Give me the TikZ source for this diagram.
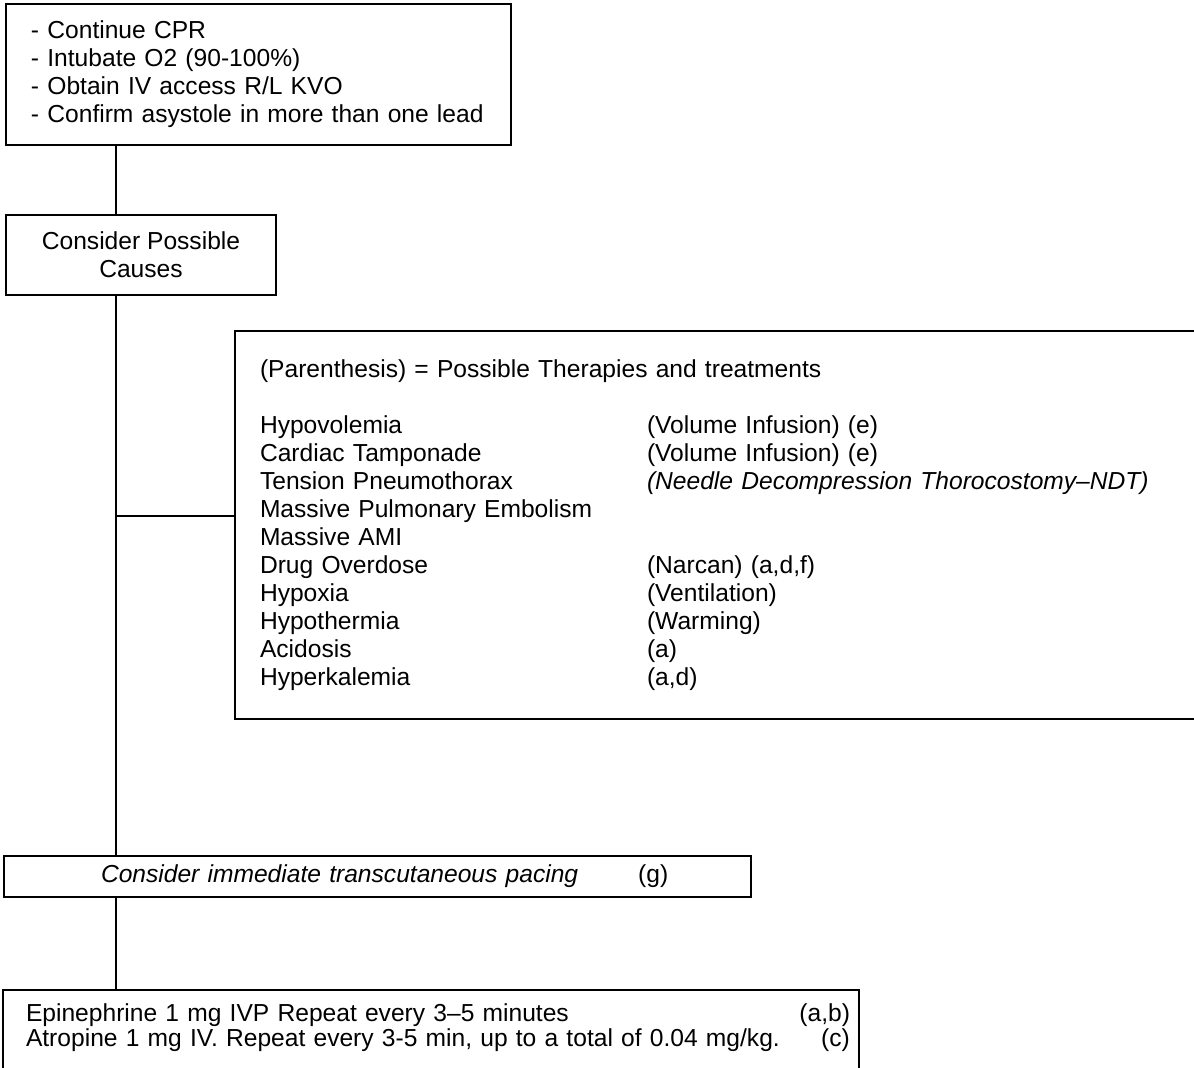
\documentclass[tikz,border=0pt]{standalone}
\usepackage{fontspec}
\setmainfont{Liberation Sans}
\newcommand{\causerow}[2]{\makebox[\ColGap][l]{#1}#2}

\begin{document}
\begin{tikzpicture}[x=0.5pt, y=-0.5pt, font=\fontsize{12.3}{14}\selectfont,
	box/.style={draw, rectangle, line width=0.9pt, anchor=north west, inner ysep=0pt, outer sep=0pt},
	link/.style={line width=0.7pt}]

	\def \ColGap {193.5pt} % second column of the causes list
	\def \TextInset {12.5pt}
	\def \TrunkX {116}

	\useasboundingbox (0,0) rectangle (1194,1068);

	\node (Steps) at (6,4) [box, minimum width=252.5pt, minimum height=70.5pt, inner xsep=\TextInset, text width=227.5pt, align=left]{- Continue CPR\\- Intubate O2 (90-100\%)\\- Obtain IV access R/L KVO\\- Confirm asystole in more than one lead};
	\node (Causes) at (6,215) [box, minimum width=135pt, minimum height=40pt, align=center]{Consider Possible\\Causes};
	\node (List) at (235,331) [box, minimum width=507.5pt, minimum height=194pt, inner xsep=\TextInset, text width=482.5pt, align=left]{(Parenthesis) = Possible Therapies and treatments\\[14pt]
		\causerow{Hypovolemia}{(Volume Infusion) (e)}\\
		\causerow{Cardiac Tamponade}{(Volume Infusion) (e)}\\
		\causerow{Tension Pneumothorax}{\textit{(Needle Decompression Thorocostomy–NDT)}}\\
		\causerow{Massive Pulmonary Embolism}{}\\
		\causerow{Massive AMI}{}\\
		\causerow{Drug Overdose}{(Narcan) (a,d,f)}\\
		\causerow{Hypoxia}{(Ventilation)}\\
		\causerow{Hypothermia}{(Warming)}\\
		\causerow{Acidosis}{(a)}\\
		\causerow{Hyperkalemia}{(a,d)}};
	\node (Pacing) at (4,856) [box, minimum width=373.5pt, minimum height=20.5pt, inner xsep=4.5pt, text width=364.5pt, align=left]{\hspace*{44pt}\textit{Consider immediate transcutaneous pacing}\hspace{30pt}(g)};
	\node (Drugs) at (3,990) [box, minimum width=428pt, inner xsep=4.5pt, inner ysep=7pt, text width=419pt, text depth=40pt, align=left, font=\fontsize{12.3}{12.5}\selectfont]{\hspace*{7pt}Epinephrine 1 mg IVP Repeat every 3–5 minutes\hspace{\fill}(a,b)\\
		\hspace*{7pt}Atropine 1 mg IV. Repeat every 3-5 min, up to a total of 0.04 mg/kg.\hspace{\fill}(c)};

	\coordinate (Trunk) at (\TrunkX,516);
	\draw[link] (Steps.south -| Trunk) -- (Causes.north -| Trunk);
	\draw[link] (Causes.south -| Trunk) -- (Pacing.north -| Trunk);
	\draw[link] (Pacing.south -| Trunk) -- (Drugs.north -| Trunk);
	\draw[link] (Trunk) -- (Trunk -| List.west);

\end{tikzpicture}
\end{document}
